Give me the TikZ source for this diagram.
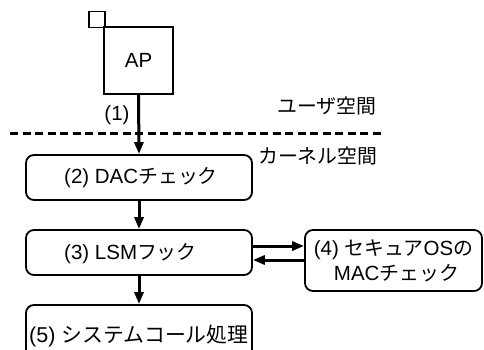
\documentclass[tikz,border=0pt]{standalone}
\usepackage{fontspec}
\setmainfont{Liberation Sans}
\newfontfamily\jp{Noto Sans CJK JP}[Scale=0.97]
\newcommand\J[1]{{\jp #1}}
\usetikzlibrary{arrows.meta}
\begin{document}
\begin{tikzpicture}[x=1pt,y=-1pt,
  font=\fontsize{20.5pt}{25pt}\selectfont,
  box/.style={draw, line width=1.8pt, rounded corners=8pt, inner sep=0pt},
  txt/.style={inner sep=0pt, anchor=west},
  arr/.style={line width=3pt, -{Triangle[length=12pt,width=9pt]}},
  sq/.style={draw, line width=1.8pt, inner sep=0pt}]
\useasboundingbox (0,0) rectangle (484,349);
\clip (0,0) rectangle (484,349);
\node[sq, minimum size=16pt] (small) at (97,19.5) {};
\node[sq, minimum width=69pt, minimum height=67pt] (ap) at (138.5,60.5) {AP};
\node[box, minimum width=226pt, minimum height=45pt] (dac) at (139,177.5) {};
\node[txt] (dact) at (64,177.5) {(2) DAC\J{チェック}};
\node[box, minimum width=226pt, minimum height=45pt] (lsm) at (139,252.5) {};
\node[txt] (lsmt) at (64,254) {(3) LSM\J{フック}};
\node[box, minimum width=226pt, minimum height=70pt] (sys) at (139,340) {};
\node[txt, font=\fontsize{21.5pt}{26pt}\selectfont] (syst) at (29,336) {(5) \J{システムコール処理}};
\node[box, align=center, minimum width=177pt, minimum height=61pt] (mac) at (393.5,260.5) {(4) \J{セキュア}OS\J{の}\\ \hspace*{6pt}MAC\J{チェック}};
\node (l1) at (117,115) {(1)};
\node[anchor=east] (user) at (380,106) {\J{ユーザ空間}};
\node[anchor=east] (kern) at (381,156) {\J{カーネル空間}};
\coordinate (dl) at (10,133);
\coordinate (dr) at (384,133);
\draw[line width=3pt, dash pattern=on 8pt off 4.5pt] (dl) -- (dr);
\draw[arr] (ap.south) -- (dac.north);
\draw[arr] (dac.south) -- (lsm.north);
\draw[arr] (lsm.south) -- (sys.north);
\draw[arr] ([yshift=6.5pt]lsm.east) -- ([yshift=6.5pt]lsm.east -| mac.west);
\draw[arr] ([yshift=-7.5pt]lsm.east -| mac.west) -- ([yshift=-7.5pt]lsm.east);
\end{tikzpicture}
\end{document}
